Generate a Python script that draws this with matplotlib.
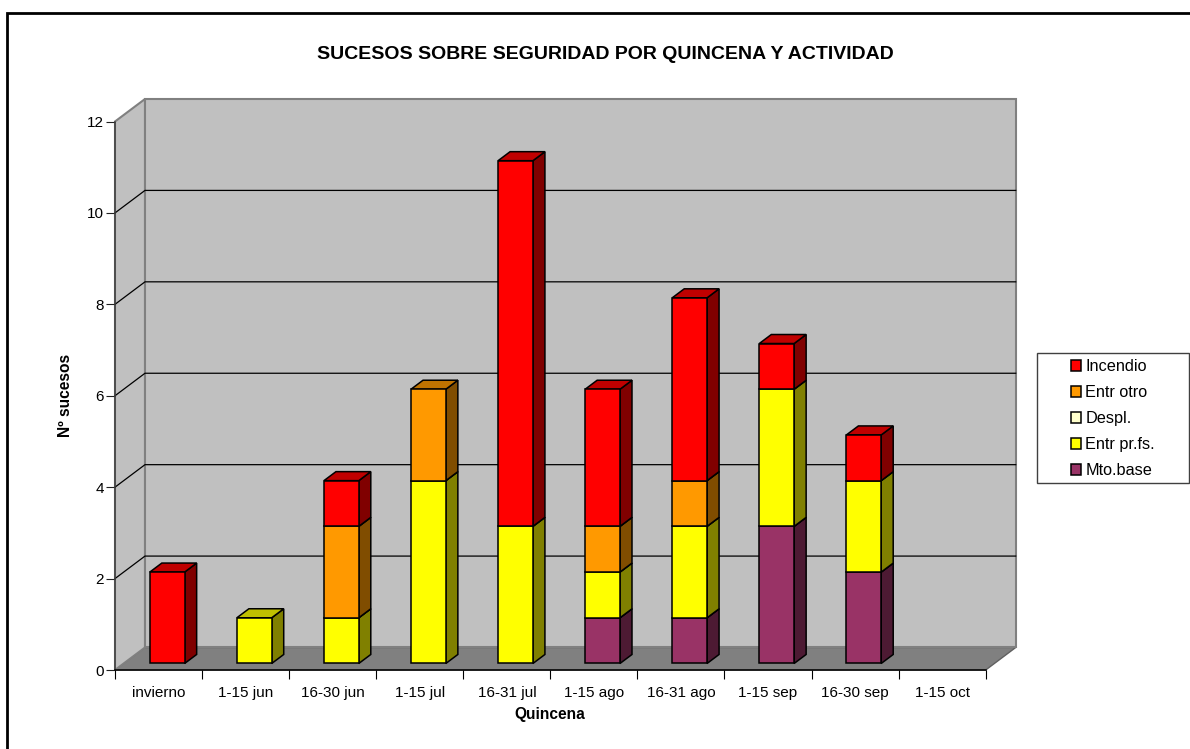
import numpy as np
import matplotlib as mpl
mpl.use("Agg")
import matplotlib.pyplot as plt
from matplotlib.patches import Polygon, Patch, Rectangle

mpl.rcParams['font.family'] = ['Liberation Sans', 'DejaVu Sans']

categories = ['invierno', '1-15 jun', '16-30 jun', '1-15 jul', '16-31 jul',
              '1-15 ago', '16-31 ago', '1-15 sep', '16-30 sep', '1-15 oct']

# stacked bottom to top
mto_base = [0, 0, 0, 0, 0, 1, 1, 3, 2, 0]
entr_prfs = [0, 1, 1, 4, 3, 1, 2, 3, 2, 0]
despl = [0, 0, 0, 0, 0, 0, 0, 0, 0, 0]
entr_otro = [0, 0, 2, 2, 0, 1, 1, 0, 0, 0]
incendio = [2, 0, 1, 0, 8, 3, 4, 1, 1, 0]

series = [mto_base, entr_prfs, despl, entr_otro, incendio]
series_names = ['Mto.base', 'Entr pr.fs.', 'Despl.', 'Entr otro', 'Incendio']

# front, side, top colors
colors = {
    'Mto.base': ('#993366', '#4D1A33', '#732650'),
    'Entr pr.fs.': ('#FFFF00', '#808000', '#C0C000'),
    'Despl.': ('#FFFFCC', '#808066', '#C0C099'),
    'Entr otro': ('#FF9900', '#804D00', '#C07300'),
    'Incendio': ('#FF0000', '#800000', '#C00000'),
}

W, H = 1190, 749
fig = plt.figure(figsize=(W / 100, H / 100), dpi=100)
ax = fig.add_axes([115 / W, (H - 670) / H, 870.7 / W, 548.5 / H])
ax.set_xlim(0, 10)
ax.set_ylim(0, 12)
ax.patch.set_visible(False)

# how far the back wall sits from the front plane, in data units
depth_x = 30 / 87.07
depth_y = 22.5 / 45.7


def proj(x, y, d):
    return (x + d * depth_x, y + d * depth_y)


# walls and floor
ax.add_patch(Polygon([proj(0, 0, 0), proj(10, 0, 0), proj(10, 0, 1), proj(0, 0, 1)],
                     fc='#808080', ec='#606060', lw=1.0, clip_on=False, zorder=1))
ax.add_patch(Polygon([proj(0, 0, 0), proj(0, 0, 1), proj(0, 12, 1), proj(0, 12, 0)],
                     fc='#C0C0C0', ec='#808080', lw=1.5, clip_on=False, zorder=1))
ax.add_patch(Polygon([proj(0, 0, 1), proj(10, 0, 1), proj(10, 12, 1), proj(0, 12, 1)],
                     fc='#C0C0C0', ec='#808080', lw=1.5, clip_on=False, zorder=1))

# grid lines run over left wall then back wall
for v in range(2, 12, 2):
    pts = [proj(0, v, 0), proj(0, v, 1), proj(10, v, 1)]
    ax.plot([p[0] for p in pts], [p[1] for p in pts], color='black', lw=0.9,
            clip_on=False, zorder=2)

# bars
bar_left = 0.30
bar_width = 0.40
d_front = 0.29
d_back = 0.69
for i in range(len(categories)):
    bottom = 0
    for name, values in zip(series_names, series):
        val = values[i]
        if val == 0:
            continue
        top = bottom + val
        x0 = i + bar_left
        x1 = x0 + bar_width
        front, side, lid = colors[name]
        ax.add_patch(Polygon([proj(x1, bottom, d_front), proj(x1, bottom, d_back),
                              proj(x1, top, d_back), proj(x1, top, d_front)],
                             fc=side, ec='black', lw=1.1, clip_on=False, zorder=3))
        ax.add_patch(Polygon([proj(x0, top, d_front), proj(x1, top, d_front),
                              proj(x1, top, d_back), proj(x0, top, d_back)],
                             fc=lid, ec='black', lw=1.1, clip_on=False, zorder=3))
        ax.add_patch(Polygon([proj(x0, bottom, d_front), proj(x1, bottom, d_front),
                              proj(x1, top, d_front), proj(x0, top, d_front)],
                             fc=front, ec='black', lw=1.1, clip_on=False, zorder=3))
        bottom = top

# axes
ax.spines['right'].set_visible(False)
ax.spines['top'].set_visible(False)
ax.spines['left'].set_color('#404040')
ax.spines['left'].set_linewidth(1.1)
ax.spines['bottom'].set_linewidth(1.1)
ax.spines['left'].set_zorder(4)
ax.spines['bottom'].set_zorder(4)

ax.set_yticks(np.arange(0, 14, 2))
ax.tick_params(axis='y', direction='out', length=6.5, width=0.8, pad=1.5,
               labelsize=11, color='#202020')
ax.set_xticks(np.arange(0, 11))
ax.set_xticklabels([])
ax.tick_params(axis='x', which='major', direction='out', length=6.5, width=0.8)
ax.set_xticks(np.arange(0.5, 10.5), minor=True)
ax.set_xticklabels(categories, minor=True)
ax.tick_params(axis='x', which='minor', length=0, pad=11.5, labelsize=11)

fig.text(605 / W, 1 - 54.5 / H, 'SUCESOS SOBRE SEGURIDAD POR QUINCENA Y ACTIVIDAD',
         ha='center', va='center', fontsize=14, fontweight='bold')
fig.text(550 / W, 1 - 714 / H, 'Quincena', ha='center', va='center',
         fontsize=11.2, fontweight='bold')
fig.text(66 / W, 1 - 395 / H, 'Nº sucesos', ha='center', va='center', rotation=90,
         fontsize=11.2, fontweight='bold')

# legend, frame drawn apart because the entries sit off centre in it
fig.add_artist(Rectangle((1036.7 / W, 1 - 482.7 / H), 152.6 / W, 130 / H, fc='white',
                         ec='#404040', lw=1.0, transform=fig.transFigure))
handles = [Patch(fc=colors[n][0], ec='black', lw=1.1) for n in series_names[::-1]]
fig.legend(handles, series_names[::-1], frameon=False, loc='upper left',
           bbox_to_anchor=(1071 / W, 1 - 359 / H), borderpad=0, borderaxespad=0,
           fontsize=11.7, handlelength=0.64, handleheight=0.64, handletextpad=0.25,
           labelspacing=0.68)

# chart border, only left and top fall inside the picture
fig.add_artist(plt.Line2D([7 / W, 7 / W, 1], [0, 1 - 13 / H, 1 - 13 / H], color='black',
                          lw=2.0, transform=fig.transFigure, solid_joinstyle='miter'))

fig.savefig('out.png', dpi=100)
